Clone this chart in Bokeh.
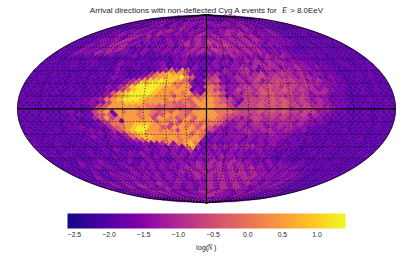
import math
from bokeh.plotting import figure
from bokeh.models import LinearColorMapper, ColorBar, FixedTicker, Label, ColumnDataSource
from bokeh.palettes import Plasma256
from bokeh.embed import file_html
from bokeh.resources import INLINE

W, H = 413, 262
NSIDE = 16
VMIN, VMAX = -2.6, 1.41
CBAR_TICKS = [-2.5, -2.0, -1.5, -1.0, -0.5, 0.0, 0.5, 1.0]
CBAR_LABELS = ["\u22122.5", "\u22122.0", "\u22121.5", "\u22121.0", "\u22120.5", "0.0", "0.5", "1.0"]
GRID_LONS = [-160, -140, -120, -100, -80, -60, -40, -20, 20, 40, 60, 80, 100, 120, 140, 160]
GRID_LATS = [-80, -70, -60, -50, -40, -30, -20, -10, 10, 20, 30, 40, 50, 60, 70, 80]
LEVEL_KEYS = "0123456789a"
LEVEL_VALUES = [-2.2, -1.95, -1.7, -1.4, -1.05, -0.72, -0.4, 0.0, 0.45, 0.9, 1.3]

# one string per HEALPix ring, north to south, read left to right
RING_CODES = [
 "1212", "21232121", "121232123212", "2123212321232123", "11132123323232321111",
 "112113132323233232221111", "1112132323432323233432221111", "11212323234232323234323223111121",
 "111232323243232324323434323232111211", "1121232342432323234334343434232321111111",
 "11123232432323232323434343434343232221111211", "211123234323132123234343543434343323232211111211",
 "1112323243431321232323434343454343432323221112111111", "21113232343431123232323234343543443434323222111111211111",
 "111232324343132123112323234343434443434343232321112111112111",
 "1111211211112111" "2311121112232211" "2132243323234334" "3222221211112111",
 "1121111112211112" "1112211221323121" "1323133434243432" "3322211112111211",
 "1111112111211113" "2211122311232122" "2323232324434343" "3332212111211111",
 "2111111211211112" "1122111231212131" "2312334342444233" "4332322111211121",
 "1112111111112113" "2111212347486321" "3224334532343444" "3433222211112111",
 "1111211111211211" "2111124789886321" "3433234345344543" "4323322111121211",
 "1121111111121123" "21123578899a8621" "4522343445545444" "3443223211111211",
 "1111121111111112" "12346899a9987412" "5632343453455554" "4334322211211111",
 "1211111121121112" "2357a9aa99778312" "6532334354556545" "4544333221111211",
 "1111211211111123" "2469aaaa98878722" "7643345455654554" "4433322211211111",
 "1121111121112122" "3579aaa988888132" "7542354546555654" "5443432211111211",
 "1111112111211123" "689aaaa988787842" "7753435456655544" "4344322111211111",
 "2111211111212234" "789aaa9888688767" "8752345546565454" "5433322211111211",
 "1121111211122347" "89aaa98887887687" "8765325555656545" "4343222111121111",
 "1111211121223235" "8899988887667688" "8765425556565654" "5434322211111121",
 "2111111211212356" "8888887766766768" "8775355565656554" "5443322111211111",
 "1211211111212568" "8888787667656678" "8776555556565645" "5544432211111121",
 "2112111123112578" "2878878767687688" "8777655565656554" "5533322111211111",
 "1111211112312566" "2888787568876788" "8876555454554544" "5343221211111211",
 "1121111112112468" "5788878588767868" "8765434554545444" "4332221111211111",
 "1111211112111256" "7288888687858687" "7764344354444443" "4323211211111211",
 "1211111121111234" "7788999878568776" "7643343443434434" "3322111111121111",
 "1112111122311224" "6789aa8865887868" "6432343344334343" "3221121111111211",
 "1211112111223212" "4689aa8878758877" "5323234334433432" "3211111211111111",
 "1111211121122323" "2478988888888687" "3232333433343332" "2111211111121111",
 "2111111211123212" "3247899888878787" "2323332323333322" "2211111121111111",
 "1112111111212122" "2234688878878883" "2323232323233222" "1121111111121111",
 "1211121111121212" "2122232347378971" "2212323223232212" "2111121111111111",
 "2111211121112122" "1212322323427942" "3434343443333232" "2111111211111111",
 "1112111211211213" "2121232232323522" "2322323223221211" "1111112111111111",
 "2111121112112111" "2323212323232322" "3232323212322112" "1111211111111211",
 "1121211111221132" "1221323212332323" "3243323232321121" "1111121111111121",
 "1111112112321112" "3212322212323232" "3432343232213212" "1112111111211111",
 "112113212321131123232323232343434343433232323221211112111111",
 "11112123132123232323232343434343434343323232321211111112",
 "1121131122123232323234343434434343433232321211111212",
 "111121132323232323232343434344434333232321111111",
 "11132123232323232323434343434433323232111112",
 "1132123232323234323243434343323232211112",
 "112323232343232323434343432323211111",
 "12323243232323234343432323211111",
 "2123232343232343434323232111",
 "123234323234343232321211",
 "21232323234332321211",
 "1232323343232121",
 "212323232321",
 "12323212",
 "2322",
]

# ---- Mollweide + HEALPix geometry ----
def moll(lon, z):
    t = math.asin(max(-1, min(1, z)))
    if abs(z) < 1:
        for _ in range(40):
            d = (2*t + math.sin(2*t) - math.pi*z) / (2 + 2*math.cos(2*t) + 1e-9)
            t -= d
    return lon/math.pi*math.cos(t), math.sin(t)

def plane_to_sky(x, y, xc):
    if abs(y) <= math.pi/4:
        return x, 8*y/(3*math.pi)
    s = max(0.0, 2 - 4*abs(y)/math.pi)
    z = math.copysign(1 - s*s/3, y)
    return (xc + (x-xc)/s if s > 1e-9 else xc), z

def pixel(xp, yp, xc):
    h = math.pi/(4*NSIDE)
    xs, ys = [], []
    for dx, dy in ((0, h), (h, 0), (0, -h), (-h, 0)):
        xq = max(-math.pi, min(math.pi, xp+dx))
        lon, z = plane_to_sky(xq, yp+dy, xc)
        X, Y = moll(lon, z)
        xs.append(X); ys.append(Y)
    return xs, ys

def facet_center(x):
    k = max(0, min(3, math.floor((x+math.pi)/(math.pi/2))))
    return -math.pi + (2*k+1)*math.pi/4

xs_all, ys_all, vals = [], [], []
for idx, code in enumerate(RING_CODES):
    i = idx + 1
    yp = (2*NSIDE - i)*math.pi/(4*NSIDE)
    cap = min(i, 4*NSIDE - i)
    if cap < NSIDE:
        centers = []
        for k in range(4):
            xc = -math.pi + (2*k+1)*math.pi/4
            for jj in range(cap):
                centers.append((xc + (jj-(cap-1)/2)*math.pi/(2*NSIDE), xc))
    else:
        off = 0.5 if (i-NSIDE) % 2 == 0 else 0.0
        ncol = 4*NSIDE + (0 if off else 1)
        centers = []
        for c in range(ncol):
            x0 = -math.pi + (c+off)*math.pi/(2*NSIDE)
            centers.append((x0, facet_center(x0)))
    n = len(centers)
    for j, (xp, xc) in enumerate(centers):
        ch = code[min(len(code)-1, int((j+0.5)/n*len(code)))]
        a, b = pixel(xp, yp, xc)
        xs_all.append(a); ys_all.append(b)
        vals.append(LEVEL_VALUES[LEVEL_KEYS.index(ch)])

# ---- figure ----
CX, CY, AX, AY = 206.0, 108.3, 189.0, 94.0
p = figure(width=W, height=H, toolbar_location=None, output_backend="svg",
           x_range=((0-CX)/AX, (W-CX)/AX), y_range=((CY-H)/AY, CY/AY),
           min_border=0, outline_line_color=None)
p.axis.visible = False
p.grid.visible = False
p.styles = {"position": "absolute", "left": "0px", "top": "0px"}

mapper = LinearColorMapper(palette=Plasma256, low=VMIN, high=VMAX)
src = ColumnDataSource(dict(xs=xs_all, ys=ys_all, v=vals))
p.patches("xs", "ys", source=src,
          fill_color={"field": "v", "transform": mapper},
          line_color={"field": "v", "transform": mapper}, line_width=0.4)

zs = [-1 + k/100 for k in range(201)]
for lon in GRID_LONS:
    c = [moll(math.radians(lon), z) for z in zs]
    p.line([q[0] for q in c], [q[1] for q in c], line_color="black", line_width=0.8, line_dash="1 2")
ls = [-180 + k*2 for k in range(181)]
for lat in GRID_LATS:
    c = [moll(math.radians(l), math.sin(math.radians(lat))) for l in ls]
    p.line([q[0] for q in c], [q[1] for q in c], line_color="black", line_width=0.8, line_dash="1 2")

p.line([-1, 1], [0, 0], line_color="black", line_width=1.2)
p.line([0, 0], [-1, 1], line_color="black", line_width=1.2)

outline = [moll(-math.pi, z) for z in zs] + [moll(math.pi, z) for z in reversed(zs)]
p.line([q[0] for q in outline]+[outline[0][0]], [q[1] for q in outline]+[outline[0][1]],
       line_color="black", line_width=0.8)

FONT = "Liberation Sans"
def lab(x, y, t, size="8px", font=FONT, style="normal"):
    p.add_layout(Label(x=x, y=H-y, x_units="screen", y_units="screen", text=t,
                       text_font=font, text_font_size=size, text_font_style=style,
                       text_color="#262626", text_baseline="alphabetic", text_align="left"))

lab(89.3, 9.5, "Arrival directions with non-deflected Cyg A events for")
lab(281.5, 9.5, "E", font="Liberation Serif", style="italic")
lab(289.5, 9.5, "> 8.0EeV")
lab(195.5, 247, "log(", size="7.4px")
lab(207, 247, "N", size="7.4px", font="Liberation Serif", style="italic")
lab(213.5, 247, ")", size="7.4px")

cb = ColorBar(color_mapper=mapper, orientation="horizontal", location=(67, 23), width=278, height=15,
              ticker=FixedTicker(ticks=CBAR_TICKS),
              major_label_overrides=dict(zip(CBAR_TICKS, CBAR_LABELS)),
              major_label_text_font=FONT, major_label_text_font_size="6.8px",
              major_label_text_color="#262626", label_standoff=3,
              major_tick_line_color=None, minor_tick_line_color=None, bar_line_color=None,
              border_line_color=None, background_fill_color=None, padding=0)
p.add_layout(cb, "center")

open("out.html", "w").write(file_html(p, INLINE))
